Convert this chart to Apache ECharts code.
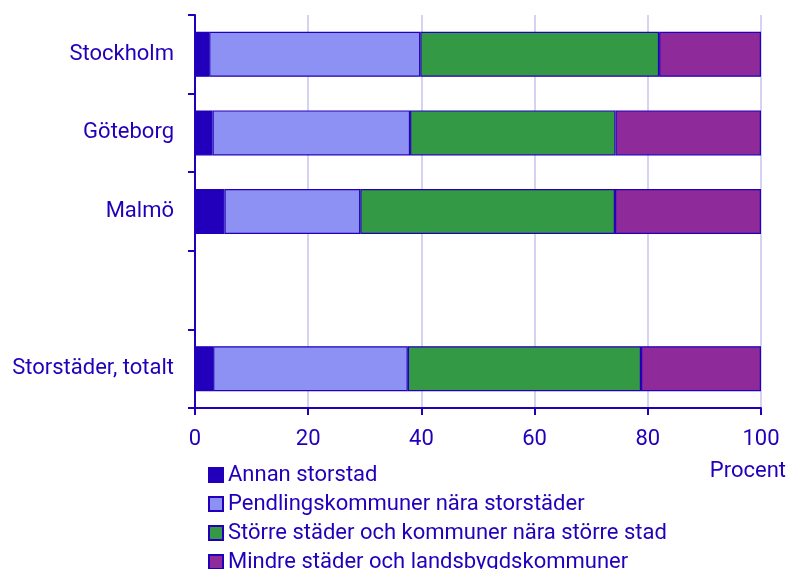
<!DOCTYPE html>
<html>
<head>
<meta charset="utf-8">
<script src="https://cdn.jsdelivr.net/npm/echarts@6/dist/echarts.min.js"></script>
<style>
  html, body { margin: 0; padding: 0; background: #fff; }
  #chart { width: 790px; height: 569px; }
</style>
</head>
<body>
<div id="chart"></div>
<script>
// kategorier (tom rad mellan städerna och totalen)
const categories = ['Stockholm', 'Göteborg', 'Malmö', '', 'Storstäder, totalt'];
const seriesNames = [
  'Annan storstad',
  'Pendlingskommuner nära storstäder',
  'Större städer och kommuner nära större stad',
  'Mindre städer och landsbygdskommuner'
];
const annanStorstad = [2.5, 3.1, 5.2, null, 3.2];
const pendling      = [37.3, 34.9, 24.0, null, 34.4];
const storreStader  = [42.2, 36.3, 45.0, null, 41.2];
const mindreStader  = [18.0, 25.7, 25.8, null, 21.2];
const xTicks = [0, 20, 40, 60, 80, 100];

const colors = ['#2200bb', '#8c91f3', '#339944', '#8e2a99'];
const ink = '#2200bb';
const font = 'Roboto';
const fs = 22;

const chart = echarts.init(document.getElementById('chart'));
const values = [annanStorstad, pendling, storreStader, mindreStader];

chart.setOption({
  animation: false,
  textStyle: { fontFamily: font },
  grid: { left: 195, right: 29, top: 15, bottom: 161 },
  legend: {
    orient: 'vertical',
    left: 203,
    top: 459,
    width: 580,
    height: 130,
    itemWidth: 14,
    itemHeight: 14,
    itemGap: 7,
    icon: 'rect',
    textStyle: { color: ink, fontSize: fs, fontFamily: font },
    data: seriesNames
  },
  xAxis: {
    type: 'value',
    min: xTicks[0],
    max: xTicks[xTicks.length - 1],
    interval: 20,
    axisLine: { show: true, lineStyle: { color: ink, width: 2 } },
    axisTick: { show: true, length: 7, lineStyle: { color: ink, width: 2 } },
    axisLabel: { color: ink, fontSize: fs, margin: 20 },
    splitLine: { show: true, lineStyle: { color: '#d4d4f2', width: 2 } }
  },
  yAxis: {
    type: 'category',
    data: categories,
    inverse: true,
    axisLine: { show: true, lineStyle: { color: ink, width: 2 } },
    axisTick: { show: true, length: 7, lineStyle: { color: ink, width: 2 } },
    axisLabel: { color: ink, fontSize: fs, margin: 21 }
  },
  graphic: [{
    type: 'text',
    right: 4,
    top: 460,
    style: { text: 'Procent', fill: ink, fontSize: fs, fontFamily: font }
  }],
  series: seriesNames.map((name, i) => ({
    name: name,
    type: 'bar',
    stack: 'total',
    barWidth: 45,
    data: values[i],
    itemStyle: { color: colors[i], borderColor: ink, borderWidth: 1.2 }
  }))
});
</script>
</body>
</html>
